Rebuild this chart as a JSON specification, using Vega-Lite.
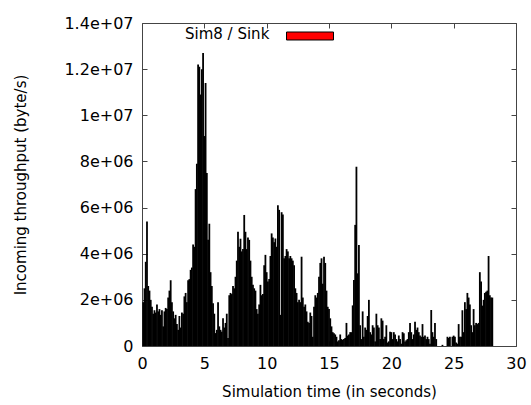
{
  "$schema": "https://vega.github.io/schema/vega-lite/v6.json",
  "width": 374,
  "height": 323,
  "autosize": "none",
  "padding": {"left": 142, "top": 23, "right": 15, "bottom": 59},
  "background": "white",
  "config": {
    "font": "DejaVu Sans",
    "view": {"stroke": "#444", "strokeWidth": 1},
    "axis": {"domain": false, "grid": false, "tickColor": "#444", "labelColor": "black", "titleColor": "black", "labelFontSize": 16, "titleFontSize": 15, "titleFontWeight": "normal", "labelFlush": false, "labelOverlap": false}
  },
  "data": {"values": [
    {"t":0.1,"v":1900000},{"t":0.2,"v":2500000},{"t":0.3,"v":3650000},{"t":0.4,"v":5400000},{"t":0.5,"v":2600000},{"t":0.6,"v":2400000},{"t":0.7,"v":2000000},{"t":0.8,"v":1700000},{"t":0.9,"v":1400000},{"t":1.0,"v":1550000},
    {"t":1.1,"v":1450000},{"t":1.2,"v":1800000},{"t":1.3,"v":1500000},{"t":1.4,"v":1600000},{"t":1.5,"v":1350000},{"t":1.6,"v":1550000},{"t":1.7,"v":850000},{"t":1.8,"v":1500000},{"t":1.9,"v":1650000},{"t":2.0,"v":1600000},
    {"t":2.1,"v":2100000},{"t":2.2,"v":2400000},{"t":2.3,"v":2850000},{"t":2.4,"v":1900000},{"t":2.5,"v":1500000},{"t":2.6,"v":1200000},{"t":2.7,"v":1350000},{"t":2.8,"v":950000},{"t":2.9,"v":700000},{"t":3.0,"v":1300000},
    {"t":3.1,"v":800000},{"t":3.2,"v":1450000},{"t":3.3,"v":1400000},{"t":3.4,"v":2150000},{"t":3.5,"v":2300000},{"t":3.6,"v":1900000},{"t":3.7,"v":2850000},{"t":3.8,"v":2900000},{"t":3.9,"v":3300000},{"t":4.0,"v":3400000},
    {"t":4.1,"v":4400000},{"t":4.2,"v":4300000},{"t":4.3,"v":6800000},{"t":4.4,"v":7900000},{"t":4.5,"v":12200000},{"t":4.6,"v":12100000},{"t":4.7,"v":10900000},{"t":4.8,"v":12000000},{"t":4.9,"v":12700000},{"t":5.0,"v":9100000},
    {"t":5.1,"v":11400000},{"t":5.2,"v":7500000},{"t":5.3,"v":4600000},{"t":5.4,"v":5300000},{"t":5.5,"v":3200000},{"t":5.6,"v":2600000},{"t":5.7,"v":1850000},{"t":5.8,"v":1400000},{"t":5.9,"v":560000},{"t":6.0,"v":700000},
    {"t":6.1,"v":1900000},{"t":6.2,"v":850000},{"t":6.3,"v":700000},{"t":6.4,"v":620000},{"t":6.5,"v":1200000},{"t":6.6,"v":800000},{"t":6.7,"v":1000000},{"t":6.8,"v":1400000},{"t":6.9,"v":350000},{"t":7.0,"v":2200000},
    {"t":7.1,"v":2300000},{"t":7.2,"v":2250000},{"t":7.3,"v":2600000},{"t":7.4,"v":2500000},{"t":7.5,"v":3000000},{"t":7.6,"v":3700000},{"t":7.7,"v":4950000},{"t":7.8,"v":4300000},{"t":7.9,"v":4650000},{"t":8.0,"v":4100000},
    {"t":8.1,"v":4200000},{"t":8.2,"v":5680000},{"t":8.3,"v":4950000},{"t":8.4,"v":4200000},{"t":8.5,"v":4700000},{"t":8.6,"v":4600000},{"t":8.7,"v":3700000},{"t":8.8,"v":3000000},{"t":8.9,"v":2650000},{"t":9.0,"v":2500000},
    {"t":9.1,"v":2400000},{"t":9.2,"v":1600000},{"t":9.3,"v":1400000},{"t":9.4,"v":1800000},{"t":9.5,"v":2650000},{"t":9.6,"v":2200000},{"t":9.7,"v":2250000},{"t":9.8,"v":3500000},{"t":9.9,"v":3950000},{"t":10.0,"v":3200000},
    {"t":10.1,"v":2800000},{"t":10.2,"v":2900000},{"t":10.3,"v":3900000},{"t":10.4,"v":4880000},{"t":10.5,"v":4700000},{"t":10.6,"v":4500000},{"t":10.7,"v":4660000},{"t":10.8,"v":4300000},{"t":10.9,"v":6100000},{"t":11.0,"v":5900000},
    {"t":11.1,"v":1350000},{"t":11.2,"v":5800000},{"t":11.3,"v":5700000},{"t":11.4,"v":3800000},{"t":11.5,"v":3900000},{"t":11.6,"v":4200000},{"t":11.7,"v":4100000},{"t":11.8,"v":3800000},{"t":11.9,"v":3900000},{"t":12.0,"v":3800000},
    {"t":12.1,"v":3700000},{"t":12.2,"v":3500000},{"t":12.3,"v":2500000},{"t":12.4,"v":2300000},{"t":12.5,"v":1900000},{"t":12.6,"v":2000000},{"t":12.7,"v":1900000},{"t":12.8,"v":3870000},{"t":12.9,"v":2100000},{"t":13.0,"v":1700000},
    {"t":13.1,"v":1800000},{"t":13.2,"v":1500000},{"t":13.3,"v":1050000},{"t":13.4,"v":1000000},{"t":13.5,"v":1450000},{"t":13.6,"v":1300000},{"t":13.7,"v":400000},{"t":13.8,"v":1700000},{"t":13.9,"v":2200000},{"t":14.0,"v":2100000},
    {"t":14.1,"v":2300000},{"t":14.2,"v":3000000},{"t":14.3,"v":3600000},{"t":14.4,"v":3800000},{"t":14.5,"v":2700000},{"t":14.6,"v":3870000},{"t":14.7,"v":3600000},{"t":14.8,"v":2400000},{"t":14.9,"v":1700000},{"t":15.0,"v":1600000},
    {"t":15.1,"v":1200000},{"t":15.2,"v":850000},{"t":15.3,"v":600000},{"t":15.4,"v":550000},{"t":15.5,"v":500000},{"t":15.6,"v":400000},{"t":15.7,"v":200000},{"t":15.8,"v":250000},{"t":15.9,"v":500000},{"t":16.0,"v":300000},
    {"t":16.1,"v":260000},{"t":16.2,"v":300000},{"t":16.3,"v":350000},{"t":16.4,"v":1000000},{"t":16.5,"v":450000},{"t":16.6,"v":500000},{"t":16.7,"v":600000},{"t":16.8,"v":600000},{"t":16.9,"v":1760000},{"t":17.0,"v":2860000},
    {"t":17.1,"v":5250000},{"t":17.2,"v":7770000},{"t":17.3,"v":3150000},{"t":17.4,"v":4380000},{"t":17.5,"v":900000},{"t":17.6,"v":300000},{"t":17.7,"v":1500000},{"t":17.8,"v":400000},{"t":17.9,"v":800000},{"t":18.0,"v":700000},
    {"t":18.1,"v":1300000},{"t":18.2,"v":2000000},{"t":18.3,"v":600000},{"t":18.4,"v":500000},{"t":18.5,"v":900000},{"t":18.6,"v":800000},{"t":18.7,"v":200000},{"t":18.8,"v":1400000},{"t":18.9,"v":900000},{"t":19.0,"v":800000},
    {"t":19.1,"v":300000},{"t":19.2,"v":1200000},{"t":19.3,"v":1100000},{"t":19.4,"v":300000},{"t":19.5,"v":400000},{"t":19.6,"v":900000},{"t":19.7,"v":150000},{"t":19.8,"v":200000},{"t":19.9,"v":620000},{"t":20.0,"v":600000},
    {"t":20.1,"v":300000},{"t":20.2,"v":600000},{"t":20.3,"v":500000},{"t":20.4,"v":300000},{"t":20.5,"v":200000},{"t":20.6,"v":450000},{"t":20.7,"v":300000},{"t":20.8,"v":100000},{"t":20.9,"v":600000},{"t":21.0,"v":550000},
    {"t":21.1,"v":200000},{"t":21.2,"v":250000},{"t":21.3,"v":300000},{"t":21.4,"v":600000},{"t":21.5,"v":1000000},{"t":21.6,"v":600000},{"t":21.7,"v":300000},{"t":21.8,"v":500000},{"t":21.9,"v":1050000},{"t":22.0,"v":700000},
    {"t":22.1,"v":800000},{"t":22.2,"v":600000},{"t":22.3,"v":450000},{"t":22.4,"v":400000},{"t":22.5,"v":950000},{"t":22.6,"v":400000},{"t":22.7,"v":450000},{"t":22.8,"v":300000},{"t":22.9,"v":400000},{"t":23.0,"v":300000},
    {"t":23.1,"v":100000},{"t":23.2,"v":1560000},{"t":23.3,"v":600000},{"t":23.4,"v":400000},{"t":23.5,"v":1000000},{"t":23.6,"v":300000},{"t":23.7,"v":0},{"t":23.8,"v":0},{"t":23.9,"v":0},{"t":24.0,"v":0},
    {"t":24.1,"v":50000},{"t":24.2,"v":0},{"t":24.3,"v":0},{"t":24.4,"v":0},{"t":24.5,"v":400000},{"t":24.6,"v":350000},{"t":24.7,"v":400000},{"t":24.8,"v":0},{"t":24.9,"v":400000},{"t":25.0,"v":450000},
    {"t":25.1,"v":400000},{"t":25.2,"v":150000},{"t":25.3,"v":100000},{"t":25.4,"v":950000},{"t":25.5,"v":400000},{"t":25.6,"v":400000},{"t":25.7,"v":1550000},{"t":25.8,"v":600000},{"t":25.9,"v":1900000},{"t":26.0,"v":1600000},
    {"t":26.1,"v":2300000},{"t":26.2,"v":2100000},{"t":26.3,"v":1800000},{"t":26.4,"v":900000},{"t":26.5,"v":600000},{"t":26.6,"v":1600000},{"t":26.7,"v":900000},{"t":26.8,"v":1000000},{"t":26.9,"v":950000},{"t":27.0,"v":1000000},
    {"t":27.1,"v":3200000},{"t":27.2,"v":2800000},{"t":27.3,"v":1750000},{"t":27.4,"v":2000000},{"t":27.5,"v":2300000},{"t":27.6,"v":2350000},{"t":27.7,"v":2400000},{"t":27.8,"v":3900000},{"t":27.9,"v":2200000},{"t":28.0,"v":2100000},
    {"t":28.1,"v":2100000}
  ]},
  "layer": [
    {
      "mark": {"type": "bar", "orient": "vertical", "size": 1.8, "color": "black"},
      "encoding": {
        "x": {"field": "t", "type": "quantitative", "scale": {"domain": [0, 30], "nice": false, "padding": 0},
              "axis": {"orient": "bottom", "values": [0, 5, 10, 15, 20, 25, 30], "tickSize": -5, "labelPadding": 14, "title": "Simulation time (in seconds)", "titleX": 187, "titleY": 45, "titleBaseline": "middle"}},
        "y": {"field": "v", "type": "quantitative", "scale": {"domain": [0, 14000000], "nice": false, "padding": 0},
              "axis": {"orient": "left", "values": [0, 2000000, 4000000, 6000000, 8000000, 10000000, 12000000, 14000000], "tickSize": -5, "labelPadding": 14,
                       "labelExpr": "datum.value == 0 ? '0' : replace(format(datum.value, '.2~e'), 'e+', 'e+0')",
                       "title": "Incoming throughput (byte/s)", "titleX": -122, "titleY": 161.5, "titleAngle": 270, "titleBaseline": "middle", "titleAlign": "center"}}
      }
    },
    {
      "transform": [{"filter": "false"}],
      "mark": {"type": "bar", "orient": "vertical", "size": 1.8},
      "encoding": {
        "x": {"field": "t", "type": "quantitative", "axis": {"orient": "top", "values": [0, 5, 10, 15, 20, 25, 30], "tickSize": -5, "labels": false, "title": null}},
        "y": {"field": "v", "type": "quantitative", "axis": {"orient": "right", "values": [0, 2000000, 4000000, 6000000, 8000000, 10000000, 12000000, 14000000], "tickSize": -5, "labels": false, "title": null}},
        "color": {"datum": "Sim8 / Sink", "scale": {"range": ["#ff0000"]},
                  "legend": {"orient": "none", "legendX": 43, "legendY": -11, "padding": 0, "title": "Sim8 / Sink", "titleOrient": "left", "titleFontSize": 15, "titleFontWeight": "normal", "titleColor": "black", "titlePadding": 16, "titleBaseline": "top",
                             "labelExpr": "''", "labelOffset": 0, "symbolType": "M-1,-0.17L1,-0.17L1,0.17L-1,0.17Z", "symbolSize": 2209, "symbolStrokeWidth": 1, "symbolStrokeColor": "black", "symbolOpacity": 1}}
      }
    }
  ],
  "resolve": {"axis": {"x": "independent", "y": "independent"}}
}
